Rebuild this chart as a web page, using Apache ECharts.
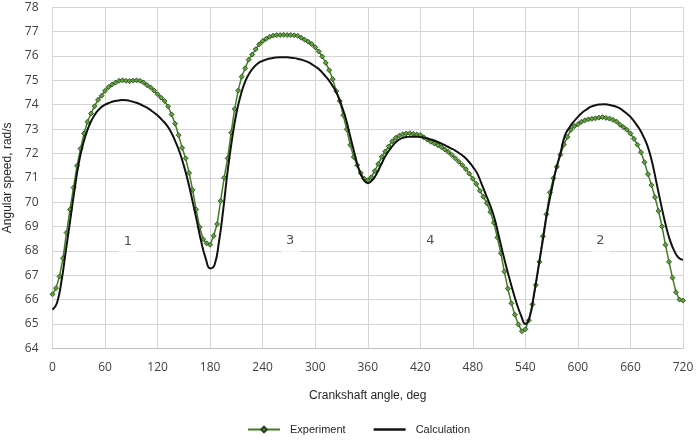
<!DOCTYPE html>
<html>
<head>
<meta charset="utf-8">
<script src="https://cdn.jsdelivr.net/npm/echarts@6/dist/echarts.min.js"></script>
<style>html,body{margin:0;padding:0;background:#fff}#c{width:700px;height:448px}</style>
</head>
<body>
<div id="c"></div>
<script>
// Crankshaft angle sampling (deg)
const expStep = 4;
const calcStep = 5;
const expAngles = Array.from({length: 181}, (_, i) => i * expStep);
const calcAngles = Array.from({length: 145}, (_, i) => i * calcStep);

// Experiment, rad/s (every 4 deg)
const experiment = [
66.22,66.47,66.95,67.7,68.75,69.7,70.6,71.49,72.2,72.82,
73.3,73.64,73.94,74.2,74.37,74.57,74.72,74.83,74.91,74.98,
75.0,74.98,74.97,74.99,75.0,74.98,74.91,74.8,74.71,74.58,
74.43,74.29,74.15,73.93,73.6,73.22,72.75,72.23,71.8,71.2,
70.5,69.7,68.97,68.48,68.31,68.25,68.62,69.1,70.05,71.0,
71.8,72.85,73.82,74.58,75.15,75.5,75.85,76.06,76.28,76.48,
76.61,76.71,76.79,76.84,76.86,76.86,76.87,76.86,76.86,76.85,
76.83,76.75,76.67,76.59,76.49,76.36,76.19,75.98,75.72,75.42,
75.05,74.56,74.15,73.57,72.99,72.35,71.85,71.52,71.2,70.96,
70.9,71.02,71.28,71.57,71.86,72.08,72.29,72.5,72.64,72.73,
72.79,72.82,72.83,72.8,72.78,72.76,72.66,72.57,72.48,72.41,
72.34,72.26,72.16,72.06,71.94,71.8,71.66,71.52,71.36,71.17,
70.96,70.75,70.47,70.22,69.96,69.6,69.15,68.55,67.9,67.15,
66.45,65.85,65.38,64.98,64.7,64.78,65.15,65.8,66.6,67.55,
68.6,69.5,70.4,70.98,71.45,71.95,72.36,72.68,72.97,73.12,
73.2,73.3,73.36,73.4,73.42,73.44,73.47,73.49,73.46,73.43,
73.38,73.31,73.18,73.08,72.97,72.82,72.6,72.36,72.05,71.64,
71.15,70.7,70.2,69.64,69.0,68.25,67.55,66.9,66.3,66.0,
65.96
];

// Calculation, rad/s (every 5 deg)
const calculation = [
65.58,65.85,66.7,67.95,69.2,70.46,71.6,72.4,72.98,73.39,
73.68,73.88,74.0,74.08,74.14,74.17,74.19,74.18,74.14,74.09,
74.02,73.93,73.83,73.7,73.56,73.38,73.18,72.9,72.52,72.07,
71.5,70.82,70.03,69.2,68.35,67.68,67.28,67.42,68.35,69.7,
71.28,72.58,73.65,74.4,74.95,75.3,75.54,75.71,75.8,75.87,
75.91,75.94,75.95,75.95,75.94,75.92,75.89,75.84,75.78,75.69,
75.57,75.44,75.24,75.03,74.77,74.44,73.98,73.42,72.7,71.98,
71.33,70.94,70.78,70.9,71.16,71.52,71.88,72.15,72.38,72.55,
72.64,72.68,72.69,72.69,72.67,72.64,72.59,72.54,72.47,72.39,
72.3,72.21,72.12,72.0,71.86,71.68,71.45,71.18,70.75,70.3,
69.85,69.3,68.55,67.8,67.1,66.45,65.85,65.35,65.0,65.3,
66.25,67.35,68.45,69.6,70.5,71.35,72.0,72.72,73.05,73.3,
73.5,73.68,73.81,73.92,73.98,74.01,74.02,74.0,73.96,73.9,
73.8,73.66,73.5,73.28,73.02,72.68,72.25,71.6,70.75,69.9,
69.1,68.45,68.0,67.72,67.63
];

// Stroke labels
const labelTexts = ['1', '3', '4', '2'];
const labelAngles = [86, 271.4, 431.4, 625.7];
const labelValues = [68.38, 68.43, 68.43, 68.43];

const xTicks = [0, 720, 60];
const yTicks = [64, 78, 1];

const chart = echarts.init(document.getElementById('c'));
const tickFont = {fontFamily: 'Open Sans', fontSize: 12, color: '#404040'};
chart.setOption({
  animation: false,
  backgroundColor: '#fff',
  grid: {left: 52.5, right: 17, top: 7.3, bottom: 99.7, containLabel: false, outerBoundsMode: 'none'},
  xAxis: {
    type: 'value', min: xTicks[0], max: xTicks[1], interval: xTicks[2],
    name: 'Crankshaft angle, deg', nameLocation: 'middle', nameGap: 41,
    nameTextStyle: {fontFamily: 'Liberation Sans', fontSize: 12, color: '#262626'},
    axisLine: {show: true, lineStyle: {color: '#bfbfbf', width: 1}},
    axisTick: {show: false},
    axisLabel: Object.assign({margin: 13}, tickFont),
    splitLine: {show: true, lineStyle: {color: '#d4d4d4', width: 1}}
  },
  yAxis: {
    type: 'value', min: yTicks[0], max: yTicks[1], interval: yTicks[2],
    name: 'Angular speed, rad/s', nameLocation: 'middle', nameGap: 37,
    nameTextStyle: {fontFamily: 'Liberation Sans', fontSize: 12, color: '#262626'},
    axisLine: {show: true, lineStyle: {color: '#d4d4d4', width: 1}},
    axisTick: {show: false},
    axisLabel: Object.assign({margin: 14}, tickFont),
    splitLine: {show: true, lineStyle: {color: '#d4d4d4', width: 1}}
  },
  legend: {
    left: 242, top: 419,
    itemWidth: 32, itemHeight: 7, itemGap: 28,
    textStyle: {fontFamily: 'Liberation Sans', fontSize: 11, color: '#262626', padding: [0, 0, 0, 5]},
    data: [
      {name: 'Experiment'},
      {name: 'Calculation', icon: 'path://M0,0 L32,0 L32,2.5 L0,2.5 Z'}
    ]
  },
  series: [
    {
      name: 'Experiment', type: 'line',
      data: expAngles.map((a, i) => [a, experiment[i]]),
      symbol: 'diamond', symbolSize: 5, showSymbol: true,
      lineStyle: {color: '#3f7f22', width: 1.5},
      itemStyle: {color: '#5fa03a', borderColor: '#22421a', borderWidth: 0.8},
      z: 2
    },
    {
      name: 'Calculation', type: 'line',
      data: calcAngles.map((a, i) => [a, calculation[i]]),
      smooth: true, showSymbol: false, symbol: 'none',
      lineStyle: {color: '#111', width: 2},
      itemStyle: {color: '#111'},
      z: 3
    },
    {
      name: 'labels', type: 'scatter',
      data: labelAngles.map((a, i) => [a, labelValues[i], labelTexts[i]]),
      symbolSize: 0,
      label: {
        show: true, position: 'inside',
        formatter: p => p.data[2],
        fontFamily: 'DejaVu Sans', fontSize: 13, color: '#262626',
        backgroundColor: '#fff', padding: [5, 5, 5, 5]
      },
      silent: true, z: 4
    }
  ]
});
</script>
</body>
</html>
